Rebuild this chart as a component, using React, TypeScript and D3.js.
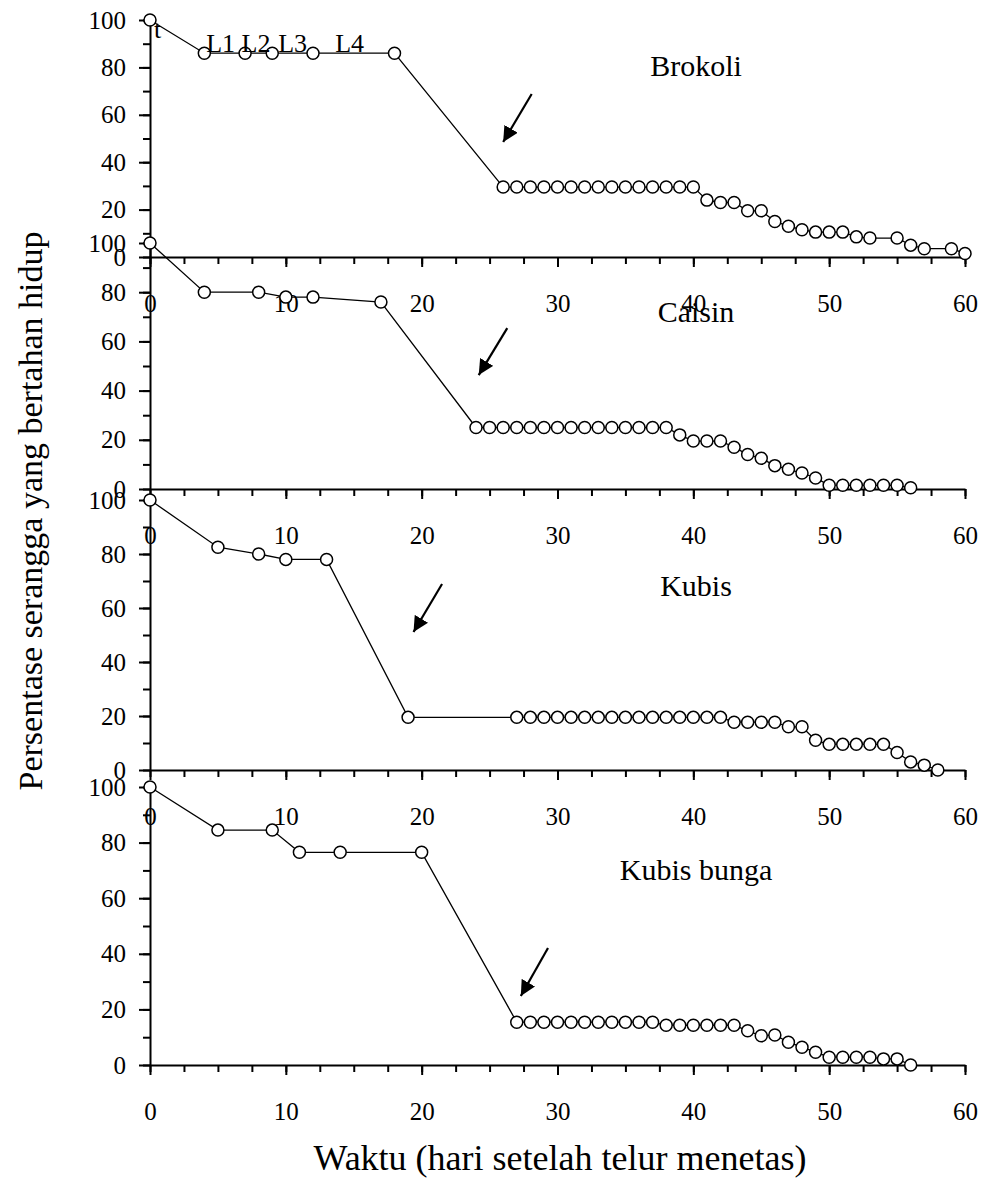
import React, { useRef, useEffect } from 'react'
import * as d3 from 'd3'

// hari setelah telur menetas
const brokoliDays = [0, 4, 7, 9, 12, 18, 26, 27, 28, 29, 30, 31, 32, 33, 34, 35, 36, 37, 38, 39, 40, 41, 42, 43, 44, 45, 46, 47, 48, 49, 50, 51, 52, 53, 55, 56, 57, 59, 60]
const brokoliValues = [100, 86, 86, 86, 86, 86, 29.5, 29.5, 29.5, 29.5, 29.5, 29.5, 29.5, 29.5, 29.5, 29.5, 29.5, 29.5, 29.5, 29.5, 29.5, 24, 23, 23, 19.5, 19.5, 15, 13, 11.5, 10.5, 10.5, 10.5, 8.5, 8, 8, 5, 3.5, 3.5, 1.5]

const caisinDays = [0, 4, 8, 10, 12, 17, 24, 25, 26, 27, 28, 29, 30, 31, 32, 33, 34, 35, 36, 37, 38, 39, 40, 41, 42, 43, 44, 45, 46, 47, 48, 49, 50, 51, 52, 53, 54, 55, 56]
const caisinValues = [100, 80, 80, 78, 78, 76, 25, 25, 25, 25, 25, 25, 25, 25, 25, 25, 25, 25, 25, 25, 25, 22, 19.5, 19.5, 19.5, 17, 14, 12.5, 9.5, 8, 6.5, 4.5, 1.5, 1.5, 1.5, 1.5, 1.5, 1.5, 0.5]

const kubisDays = [0, 5, 8, 10, 13, 19, 27, 28, 29, 30, 31, 32, 33, 34, 35, 36, 37, 38, 39, 40, 41, 42, 43, 44, 45, 46, 47, 48, 49, 50, 51, 52, 53, 54, 55, 56, 57, 58]
const kubisValues = [100, 82.5, 80, 78, 78, 19.5, 19.5, 19.5, 19.5, 19.5, 19.5, 19.5, 19.5, 19.5, 19.5, 19.5, 19.5, 19.5, 19.5, 19.5, 19.5, 19.5, 17.7, 17.7, 17.7, 17.7, 16, 16, 11, 9.5, 9.5, 9.5, 9.5, 9.5, 6.5, 3, 1.8, 0]

const bungaDays = [0, 5, 9, 11, 14, 20, 27, 28, 29, 30, 31, 32, 33, 34, 35, 36, 37, 38, 39, 40, 41, 42, 43, 44, 45, 46, 47, 48, 49, 50, 51, 52, 53, 54, 55, 56]
const bungaValues = [100, 84.5, 84.5, 76.5, 76.5, 76.5, 15.4, 15.4, 15.4, 15.4, 15.4, 15.4, 15.4, 15.4, 15.4, 15.4, 15.4, 14.3, 14.3, 14.3, 14.3, 14.3, 14.3, 12.3, 10.5, 10.8, 8.2, 6.4, 4.6, 2.8, 2.8, 2.8, 2.8, 2.2, 2.2, 0]

const cropNames = ['Brokoli', 'Caisin', 'Kubis', 'Kubis bunga']
const cropDays = [brokoliDays, caisinDays, kubisDays, bungaDays]
const cropValues = [brokoliValues, caisinValues, kubisValues, bungaValues]

// arrow tail / head in data units [day, %]
const arrowTails = [[28.1, 68.8], [26.3, 65.4], [21.5, 68.9], [29.3, 42.1]]
const arrowHeads = [[26.0, 48.5], [24.2, 46.3], [19.4, 51.1], [27.3, 24.8]]

// stage labels on the brokoli panel
const stageLabels = ['t', 'L1', 'L2', 'L3', 'L4']
const stageDays = [0.3, 5.2, 7.8, 10.5, 14.7]
const stageLevels = [92.5, 86.5, 86.5, 86.5, 86.5]

const xTicks = [0, 10, 20, 30, 40, 50, 60]
const yTicks = [0, 20, 40, 60, 80, 100]

const WIDTH = 985
const HEIGHT = 1193
const FONT = '"Liberation Serif", "Times New Roman", serif'

// vertical placement of each panel (px of 100% and 0%)
const panelTop = [20, 243, 500, 787]
const panelBottom = [257, 489, 770, 1065]
const titleY = [76, 322, 596, 880]

const App = () => {
  const svgRef = useRef(null)

  useEffect(() => {
    const svg = d3.select(svgRef.current)
    svg.selectAll('*').remove()

    const x = d3.scaleLinear().domain([0, 60]).range([150, 965])

    svg.append('defs').append('marker')
      .attr('id', 'head')
      .attr('viewBox', '0 0 10 10')
      .attr('refX', 10).attr('refY', 5)
      .attr('markerWidth', 7).attr('markerHeight', 7)
      .attr('markerUnits', 'strokeWidth')
      .attr('orient', 'auto')
      .append('path').attr('d', 'M0,0L10,5L0,10Z').attr('fill', '#000')

    cropNames.forEach((name, i) => {
      const y = d3.scaleLinear().domain([0, 100]).range([panelBottom[i], panelTop[i]])
      const g = svg.append('g')
      const pts = cropDays[i].map((d, k) => [d, cropValues[i][k]])

      // axes
      const xMinor = g.append('g').attr('transform', `translate(0,${y(0)})`)
        .call(d3.axisBottom(x).tickValues(d3.range(0, 61, 2.5)).tickSize(7).tickSizeOuter(0).tickFormat(() => ''))
      xMinor.select('.domain').attr('stroke-width', 2)
      xMinor.selectAll('line').attr('stroke-width', 2)

      const xMajor = g.append('g').attr('transform', `translate(0,${y(0)})`)
        .call(d3.axisBottom(x).tickValues(xTicks).tickSize(10).tickSizeOuter(0).tickPadding(27))
      xMajor.select('.domain').remove()
      xMajor.selectAll('line').attr('stroke-width', 2)
      xMajor.selectAll('text').attr('font-size', 25).attr('font-family', FONT).attr('fill', '#000')

      const yMinor = g.append('g').attr('transform', `translate(${x(0)},0)`)
        .call(d3.axisLeft(y).tickValues(d3.range(0, 101, 10)).tickSize(7).tickSizeOuter(0).tickFormat(() => ''))
      yMinor.select('.domain').attr('stroke-width', 2)
      yMinor.selectAll('line').attr('stroke-width', 2)

      const yMajor = g.append('g').attr('transform', `translate(${x(0)},0)`)
        .call(d3.axisLeft(y).tickValues(yTicks).tickSize(11).tickSizeOuter(0).tickPadding(13))
      yMajor.select('.domain').remove()
      yMajor.selectAll('line').attr('stroke-width', 2)
      yMajor.selectAll('text').attr('font-size', 25).attr('font-family', FONT).attr('fill', '#000')

      // series
      const line = d3.line().x(d => x(d[0])).y(d => y(d[1]))
      g.append('path').datum(pts)
        .attr('d', line)
        .attr('fill', 'none')
        .attr('stroke', '#000')
        .attr('stroke-width', 1.3)

      g.selectAll('.pt')
        .data(pts)
        .join('circle')
        .attr('class', 'pt')
        .attr('cx', d => x(d[0]))
        .attr('cy', d => y(d[1]))
        .attr('r', 6)
        .attr('fill', '#fff')
        .attr('stroke', '#000')
        .attr('stroke-width', 1.5)

      // arrow
      g.append('line')
        .attr('x1', x(arrowTails[i][0])).attr('y1', y(arrowTails[i][1]))
        .attr('x2', x(arrowHeads[i][0])).attr('y2', y(arrowHeads[i][1]))
        .attr('stroke', '#000')
        .attr('stroke-width', 2.2)
        .attr('marker-end', 'url(#head)')

      // title
      g.append('text')
        .attr('x', 696).attr('y', titleY[i])
        .attr('text-anchor', 'middle')
        .attr('font-family', FONT).attr('font-size', 30)
        .text(name)

      if (i === 0) {
        g.selectAll('.stage')
          .data(stageLabels)
          .join('text')
          .attr('class', 'stage')
          .attr('x', (d, k) => x(stageDays[k]))
          .attr('y', (d, k) => y(stageLevels[k]))
          .attr('text-anchor', (d, k) => k === 0 ? 'start' : 'middle')
          .attr('font-family', FONT).attr('font-size', 26)
          .text(d => d)
      }
    })

    svg.append('text')
      .attr('x', 560).attr('y', 1170)
      .attr('text-anchor', 'middle')
      .attr('font-family', FONT).attr('font-size', 36)
      .text('Waktu (hari setelah telur menetas)')

    svg.append('text')
      .attr('transform', 'translate(42,511) rotate(-90)')
      .attr('text-anchor', 'middle')
      .attr('font-family', FONT).attr('font-size', 34)
      .text('Persentase serangga yang bertahan hidup')
  }, [])

  return (
    <svg ref={svgRef} width={WIDTH} height={HEIGHT}
      style={{ position: 'absolute', left: 0, top: 0, background: '#fff' }} />
  )
}

export default App
